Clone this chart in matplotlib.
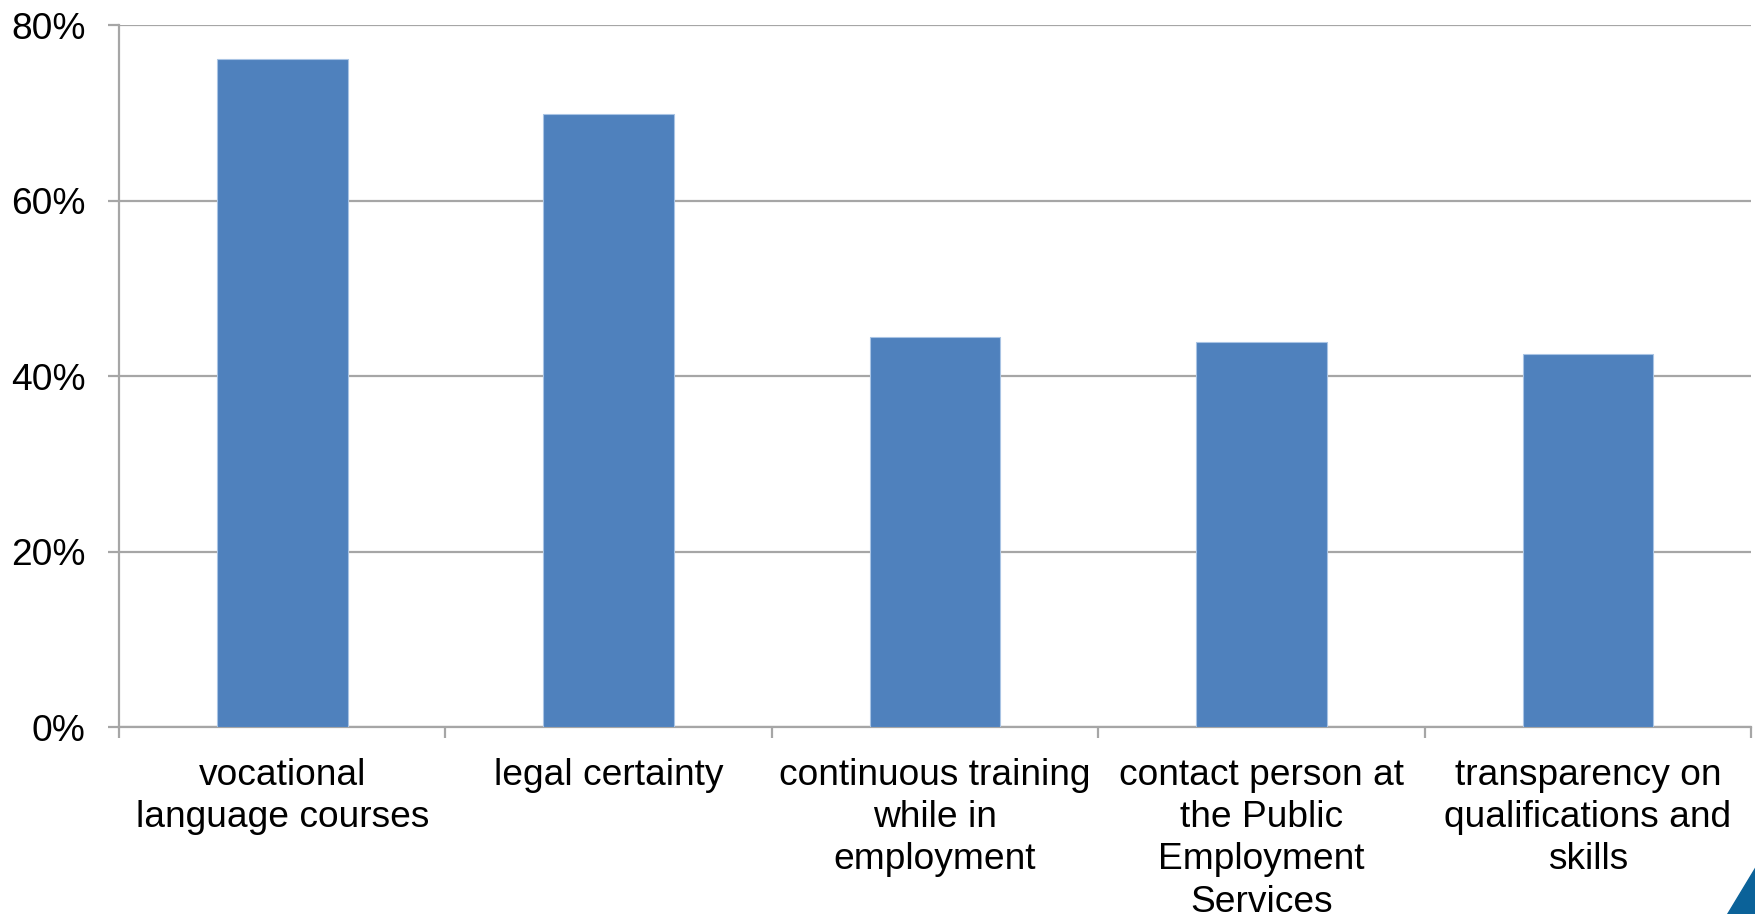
import matplotlib
matplotlib.use("Agg")
import matplotlib.pyplot as plt
from matplotlib.patches import Polygon
from matplotlib.ticker import FixedLocator, PercentFormatter

categories = [
    "vocational\nlanguage courses",
    "legal certainty",
    "continuous training\nwhile in\nemployment",
    "contact person at\nthe Public\nEmployment\nServices",
    "transparency on\nqualifications and\nskills",
]
shares = [76.1, 69.9, 44.5, 43.9, 42.5]
y_ticks = [0, 20, 40, 60, 80]

plt.rcParams["font.family"] = ["Liberation Sans", "DejaVu Sans"]

fig = plt.figure(figsize=(17.56, 9.14), dpi=100)
ax = fig.add_axes([0.0678, 0.2043, 0.9294, 0.7683])

grid_col = "#A6A6A6"
x = list(range(len(categories)))
ax.bar(x, shares, width=0.4, color="#4F81BD", edgecolor="#A9C4E4",
       linewidth=0.8, zorder=3)

ax.set_xlim(-0.5, len(categories) - 0.5)
ax.set_ylim(0, 80)
ax.set_yticks(y_ticks)
ax.yaxis.set_major_formatter(PercentFormatter(decimals=0))
ax.yaxis.grid(True, color=grid_col, linewidth=1.6, zorder=0)

ax.set_xticks(x)
ax.set_xticklabels(categories, fontsize=26.7, linespacing=1.27)
ax.xaxis.set_minor_locator(FixedLocator([i - 0.5 for i in range(len(categories) + 1)]))
ax.tick_params(axis="x", which="major", length=0, pad=22)
ax.tick_params(axis="x", which="minor", length=8, width=1.6, color=grid_col)
ax.tick_params(axis="y", length=8, width=1.6, color=grid_col, pad=16,
               labelsize=26.7)

for side in ("top", "right"):
    ax.spines[side].set_visible(False)
for side in ("left", "bottom"):
    ax.spines[side].set_color(grid_col)
    ax.spines[side].set_linewidth(1.6)

# corner accent triangle
tri = Polygon([[1727 / 1756, 0], [1, 0], [1, 48 / 914]], closed=True,
              transform=fig.transFigure, color="#0B6299", zorder=10)
fig.patches.append(tri)

fig.savefig("out.png", dpi=100)
